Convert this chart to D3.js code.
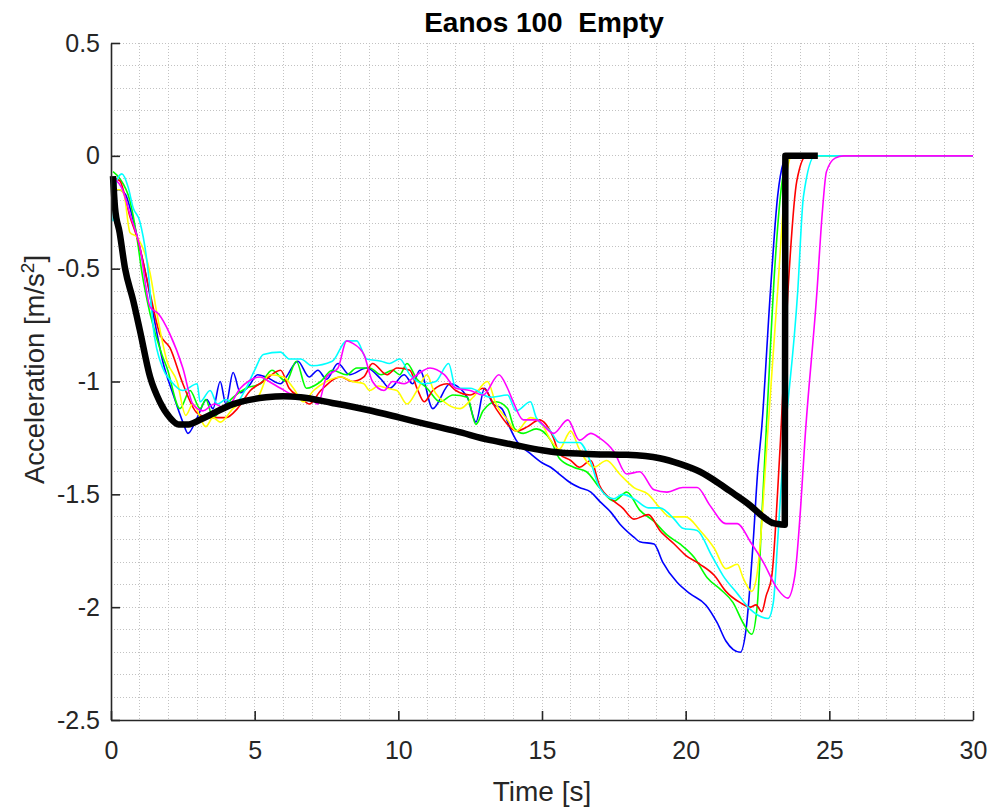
<!DOCTYPE html>
<html>
<head>
<meta charset="utf-8">
<script src="https://cdn.jsdelivr.net/npm/d3@7"></script>
<style>
  body{margin:0;background:#fff;}
  text{font-family:"Liberation Sans",Arial,sans-serif;fill:#262626;}
</style>
</head>
<body>
<div id="grafico"></div>
<script>
// runs: [time s, acceleration m/s2]
const blueRun=[[0.07,-0.18],[0.25,-0.15],[0.5,-0.17],[0.66,-0.23],[0.95,-0.38],[1.25,-0.55],[1.47,-0.7],[1.8,-0.91],[2.17,-1.06],[2.5,-1.18],[2.68,-1.23],[3.0,-1.16],[3.33,-1.08],[3.55,-1.12],[3.8,-1.0],[4.0,-1.1],[4.25,-0.96],[4.5,-1.05],[4.8,-1.02],[5.1,-0.97],[5.4,-0.98],[5.9,-1.01],[6.1,-0.98],[6.5,-0.91],[6.9,-0.98],[7.2,-0.95],[7.5,-0.99],[7.9,-0.92],[8.3,-0.97],[8.9,-0.94],[9.4,-0.99],[9.7,-1.03],[10.2,-0.97],[10.5,-1.01],[10.75,-0.95],[11.2,-1.12],[11.8,-1.01],[12.4,-1.07],[12.7,-1.18],[13.0,-1.03],[13.3,-1.1],[13.6,-1.12],[13.9,-1.21],[14.1,-1.26],[14.6,-1.32],[15.0,-1.36],[15.3,-1.38],[15.6,-1.41],[16.0,-1.45],[16.3,-1.47],[16.7,-1.49],[17.0,-1.53],[17.4,-1.58],[17.7,-1.63],[18.2,-1.69],[18.4,-1.71],[18.9,-1.72],[19.2,-1.8],[19.7,-1.89],[20.15,-1.94],[20.7,-1.99],[21.1,-2.07],[21.4,-2.15],[21.9,-2.2],[22.1,-2.1],[22.35,-1.71],[22.5,-1.41],[22.65,-1.2],[22.95,-0.6],[23.2,-0.18],[23.4,-0.03],[23.55,0],[30,0]];
const greenRun=[[0.07,-0.07],[0.3,-0.1],[0.66,-0.2],[0.9,-0.36],[1.08,-0.52],[1.36,-0.7],[1.77,-0.88],[1.95,-0.94],[2.4,-1.12],[2.75,-1.04],[3.1,-1.12],[3.3,-1.08],[3.55,-1.16],[3.8,-1.13],[4.25,-1.07],[4.7,-1.03],[5.2,-1.01],[5.6,-0.95],[6.1,-1.0],[6.45,-0.91],[6.8,-1.03],[7.3,-1.0],[7.7,-0.95],[8.2,-0.97],[8.55,-0.94],[9.0,-0.94],[9.4,-0.97],[9.8,-0.95],[10.05,-0.97],[10.3,-0.92],[10.65,-0.99],[11.0,-1.03],[11.45,-1.09],[11.9,-1.06],[12.4,-1.07],[12.7,-1.19],[12.95,-1.13],[13.4,-1.09],[13.8,-1.12],[14.05,-1.21],[14.35,-1.23],[14.8,-1.21],[15.3,-1.26],[15.6,-1.34],[16.1,-1.38],[16.55,-1.4],[17.0,-1.47],[17.5,-1.53],[17.95,-1.49],[18.4,-1.57],[18.9,-1.62],[19.35,-1.68],[19.8,-1.72],[20.3,-1.78],[20.75,-1.87],[21.2,-1.92],[21.65,-1.98],[22.0,-2.07],[22.3,-2.12],[22.5,-1.98],[22.65,-1.6],[22.85,-1.1],[23.1,-0.5],[23.35,-0.12],[23.6,0],[30,0]];
const redRun=[[0.1,-0.1],[0.3,-0.11],[0.66,-0.27],[0.95,-0.38],[1.36,-0.61],[1.7,-0.79],[2.05,-0.85],[2.5,-1.01],[3.0,-1.14],[3.45,-1.16],[4.0,-1.16],[4.4,-1.12],[4.85,-1.04],[5.3,-1.0],[5.9,-0.95],[6.2,-1.03],[6.6,-1.07],[6.9,-1.1],[7.3,-1.04],[8.0,-0.98],[8.4,-1.0],[8.8,-0.98],[9.1,-0.92],[9.6,-0.97],[9.95,-0.94],[10.4,-0.95],[10.65,-1.03],[10.9,-1.09],[11.2,-1.04],[11.7,-1.01],[12.0,-1.04],[12.5,-1.06],[12.95,-1.03],[13.4,-1.12],[13.8,-1.19],[14.1,-1.22],[14.5,-1.2],[14.9,-1.17],[15.4,-1.25],[15.6,-1.32],[16.0,-1.35],[16.3,-1.38],[16.7,-1.35],[17.0,-1.46],[17.5,-1.53],[17.8,-1.56],[18.2,-1.61],[18.7,-1.59],[19.1,-1.66],[19.6,-1.72],[20.0,-1.77],[20.5,-1.81],[21.0,-1.86],[21.4,-1.93],[21.9,-1.98],[22.25,-2.0],[22.45,-1.99],[22.65,-2.02],[22.8,-1.95],[23.0,-1.86],[23.2,-1.49],[23.3,-1.26],[23.56,-0.6],[23.87,-0.11],[24.2,0],[30,0]];
const yellowRun=[[0.07,-0.15],[0.3,-0.15],[0.45,-0.17],[0.66,-0.34],[0.9,-0.36],[1.36,-0.52],[1.6,-0.7],[1.95,-0.91],[2.3,-1.0],[2.6,-1.15],[2.85,-1.1],[3.3,-1.2],[3.55,-1.16],[3.8,-1.18],[4.25,-1.12],[4.6,-1.09],[5.1,-1.07],[5.5,-0.97],[6.0,-0.98],[6.35,-1.03],[6.7,-1.09],[7.05,-1.04],[7.5,-1.0],[8.0,-0.98],[8.4,-1.0],[8.8,-1.01],[9.0,-1.04],[9.3,-1.02],[9.6,-1.03],[9.95,-1.04],[10.3,-1.1],[10.65,-1.04],[11.0,-0.97],[11.2,-1.03],[11.7,-1.1],[12.15,-1.12],[12.6,-1.07],[13.1,-1.0],[13.4,-1.1],[13.8,-1.17],[14.1,-1.22],[14.6,-1.16],[15.0,-1.19],[15.3,-1.26],[15.6,-1.3],[16.0,-1.22],[16.3,-1.3],[16.8,-1.38],[17.25,-1.35],[17.7,-1.41],[18.2,-1.47],[18.7,-1.5],[19.1,-1.56],[19.45,-1.6],[20.0,-1.6],[20.5,-1.66],[21.0,-1.74],[21.4,-1.83],[21.8,-1.81],[22.0,-1.87],[22.3,-1.93],[22.45,-1.88],[22.6,-1.71],[22.76,-1.41],[22.87,-1.2],[23.2,-0.6],[23.45,-0.15],[23.7,0],[30,0]];
const cyanRun=[[0.07,-0.29],[0.2,-0.11],[0.38,-0.08],[0.6,-0.14],[0.77,-0.23],[1.0,-0.29],[1.3,-0.52],[1.47,-0.76],[1.8,-0.94],[2.1,-1.0],[2.5,-1.04],[3.0,-1.01],[3.1,-1.09],[3.45,-1.04],[3.7,-1.1],[4.0,-1.08],[4.3,-1.1],[4.7,-1.03],[5.0,-0.95],[5.3,-0.88],[5.9,-0.87],[6.2,-0.9],[6.6,-0.9],[7.0,-0.93],[7.7,-0.91],[8.2,-0.82],[8.55,-0.82],[8.9,-0.9],[9.4,-0.91],[9.7,-0.92],[10.05,-0.9],[10.4,-0.97],[10.9,-1.01],[11.3,-1.0],[11.75,-0.92],[12.0,-1.03],[12.5,-1.03],[13.2,-1.07],[13.8,-1.06],[14.1,-1.13],[14.6,-1.09],[14.8,-1.16],[15.3,-1.22],[15.6,-1.27],[16.3,-1.27],[16.7,-1.36],[17.0,-1.47],[17.5,-1.52],[17.8,-1.5],[18.2,-1.52],[18.7,-1.56],[19.1,-1.56],[19.6,-1.61],[19.9,-1.65],[20.4,-1.66],[20.9,-1.77],[21.3,-1.86],[21.8,-1.94],[22.25,-2.01],[22.87,-2.05],[23.05,-1.98],[23.2,-1.71],[23.35,-1.41],[23.9,-0.6],[24.1,-0.18],[24.5,0],[30,0]];
const magentaRun=[[0.1,-0.1],[0.4,-0.15],[0.66,-0.26],[1.0,-0.4],[1.36,-0.67],[1.65,-0.7],[2.05,-0.79],[2.5,-0.94],[2.85,-1.1],[3.2,-1.13],[3.6,-1.1],[4.0,-1.12],[4.5,-1.03],[5.2,-0.98],[5.5,-1.0],[5.9,-1.03],[6.35,-1.06],[6.9,-1.07],[7.2,-1.1],[7.5,-0.98],[7.9,-0.94],[8.2,-0.82],[8.4,-0.83],[8.8,-0.88],[9.1,-1.0],[9.5,-1.04],[9.8,-1.0],[10.2,-1.01],[10.65,-0.97],[11.1,-0.94],[11.6,-0.97],[12.0,-1.03],[12.5,-1.04],[12.95,-1.06],[13.5,-0.97],[13.8,-1.03],[14.0,-1.09],[14.35,-1.17],[14.8,-1.17],[15.4,-1.23],[15.9,-1.17],[16.3,-1.26],[16.7,-1.23],[17.0,-1.25],[17.5,-1.31],[17.95,-1.41],[18.4,-1.4],[18.9,-1.48],[19.35,-1.49],[19.9,-1.47],[20.4,-1.47],[20.85,-1.55],[21.4,-1.63],[21.8,-1.63],[22.25,-1.71],[22.7,-1.8],[23.2,-1.92],[23.55,-1.96],[23.8,-1.86],[24.0,-1.56],[24.15,-1.26],[24.57,-0.6],[24.75,-0.26],[24.9,-0.07],[25.2,-0.01],[25.5,0],[30,0]];
// reference curve (thick black), smooth part then jump to zero
const modelRun=[[0.07,-0.09],[0.14,-0.23],[0.3,-0.34],[0.49,-0.5],[0.77,-0.64],[1.0,-0.77],[1.36,-0.98],[1.7,-1.09],[2.05,-1.16],[2.35,-1.19],[2.7,-1.19],[3.1,-1.17],[4.25,-1.1],[5.4,-1.07],[6.0,-1.065],[6.6,-1.07],[7.7,-1.095],[8.9,-1.125],[10.05,-1.16],[11,-1.19],[12,-1.22],[13.2,-1.26],[14,-1.28],[15,-1.305],[15.6,-1.315],[16.8,-1.322],[17.95,-1.325],[19.1,-1.34],[19.8,-1.365],[20.5,-1.4],[21.2,-1.455],[21.65,-1.495],[22.25,-1.55],[22.7,-1.6],[23.05,-1.628],[23.45,-1.635]];
const modelJump=[[23.45,-1.635],[23.47,0],[24.6,0]];

const runs=[
  {data:blueRun,color:"#0000ff"},
  {data:greenRun,color:"#00ff00"},
  {data:redRun,color:"#ff0000"},
  {data:yellowRun,color:"#ffff00"},
  {data:cyanRun,color:"#00ffff"},
  {data:magentaRun,color:"#ff00ff"}
];

const xTicks=[0,5,10,15,20,25,30];
const yTicks=[0.5,0,-0.5,-1,-1.5,-2,-2.5];
const titleText="Eanos 100  Empty";

// size and margins
const margin={top:43,right:17,bottom:89,left:111};
const width=990-margin.left-margin.right;
const height=809-margin.top-margin.bottom;

let svg=d3.select("#grafico")
  .append("svg")
    .attr("width",990)
    .attr("height",809)
  .append("g")
    .attr("transform",`translate(${margin.left},${margin.top})`);

let x=d3.scaleLinear().domain([0,30]).range([0,width]);
let y=d3.scaleLinear().domain([-2.5,0.5]).range([height,0]);

// grid, minor and major, all dotted
let grid=svg.append("g")
  .attr("stroke","#c2c2c2")
  .attr("stroke-dasharray","1,2")
  .attr("stroke-width",1)
  .attr("shape-rendering","crispEdges");
grid.selectAll(".gx")
  .data(d3.range(1,31))
  .enter().append("line")
  .attr("x1",d=>x(d)).attr("x2",d=>x(d))
  .attr("y1",0).attr("y2",height);
grid.selectAll(".gy")
  .data(d3.range(-24,6).map(d=>d/10))
  .enter().append("line")
  .attr("y1",d=>y(d)).attr("y2",d=>y(d))
  .attr("x1",0).attr("x2",width);

// measured runs
let line=d3.line().x(d=>x(d[0])).y(d=>y(d[1])).curve(d3.curveMonotoneX);
svg.selectAll(".run")
  .data(runs)
  .enter().append("path")
  .attr("d",d=>line(d.data))
  .attr("fill","none")
  .attr("stroke",d=>d.color)
  .attr("stroke-width",1.6);

// model
svg.append("path")
  .attr("d",line(modelRun)+d3.line().x(d=>x(d[0])).y(d=>y(d[1]))(modelJump).replace("M","L"))
  .attr("fill","none")
  .attr("stroke","#000")
  .attr("stroke-width",6.5)
  .attr("stroke-linejoin","round");

// axes
let xAxis=svg.append("g")
  .attr("transform",`translate(0,${height})`)
  .call(d3.axisBottom(x).tickValues(xTicks).tickFormat(d=>String(d)).tickSizeInner(-9).tickSizeOuter(0).tickPadding(21));
let yAxis=svg.append("g")
  .call(d3.axisLeft(y).tickValues(yTicks).tickFormat(d=>String(d)).tickSizeInner(-9).tickSizeOuter(0).tickPadding(11));
[xAxis,yAxis].forEach(a=>{
  a.select(".domain").attr("stroke","#262626").attr("stroke-width",1.6);
  a.selectAll(".tick line").attr("stroke","#262626").attr("stroke-width",1.6);
  a.selectAll(".tick text").style("font-size","25px").attr("fill","#262626");
});
xAxis.selectAll(".tick text").attr("dy","0.71em");

// titles
svg.append("text")
  .attr("x",width/2+2)
  .attr("y",-11)
  .attr("text-anchor","middle")
  .style("font-size","28px")
  .style("font-weight","bold")
  .style("white-space","pre")
  .style("fill","#000")
  .text(titleText);

svg.append("text")
  .attr("x",width/2)
  .attr("y",height+81)
  .attr("text-anchor","middle")
  .style("font-size","28px")
  .text("Time [s]");

let yl=svg.append("text")
  .attr("transform",`translate(${-67},${height/2-12}) rotate(-90)`)
  .attr("text-anchor","middle")
  .style("font-size","27.5px");
yl.append("tspan").text("Acceleration [m/s");
yl.append("tspan").attr("baseline-shift","super").style("font-size","19px").text("2");
yl.append("tspan").text("]");
</script>
</body>
</html>
